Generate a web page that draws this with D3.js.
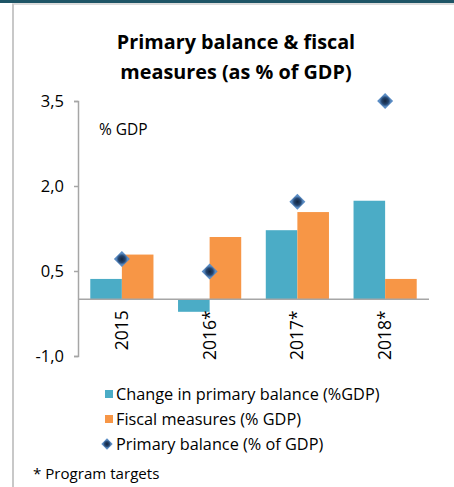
<!DOCTYPE html>
<html>
<head>
<meta charset="utf-8">
<script src="https://cdn.jsdelivr.net/npm/d3@7"></script>
<style>
  body { margin: 0; background: #fff; }
  svg { display: block; font-family: "Open Sans", sans-serif; }
</style>
</head>
<body>
<div id="chart"></div>
<script>
// primary balance & fiscal measures, bars + diamond markers

const years = ['2015', '2016*', '2017*', '2018*'];
const changeInBalance = [0.36, -0.22, 1.22, 1.74];
const fiscalMeasures = [0.79, 1.10, 1.54, 0.36];
const primaryBalance = [0.71, 0.49, 1.72, 3.5];
const yTicks = [-1.0, 0.5, 2.0, 3.5];
const legendLabels = ['Change in primary balance (%GDP)', 'Fiscal measures (% GDP)', 'Primary balance (% of GDP)'];

const width = 454, height = 487;
const teal = '#4bacc6', orange = '#f79646';

const svg = d3.select('#chart').append('svg')
    .attr('width', width)
    .attr('height', height);

// gradient for the diamonds
const defs = svg.append('defs');
const grad = defs.append('radialGradient').attr('id', 'dia');
grad.append('stop').attr('offset', '0%').attr('stop-color', '#13243d');
grad.append('stop').attr('offset', '60%').attr('stop-color', '#23446e');
grad.append('stop').attr('offset', '100%').attr('stop-color', '#5a8cc4');

// frame
svg.append('rect').attr('x', 0).attr('y', 0).attr('width', width).attr('height', 3).attr('fill', '#1e5566');
svg.append('line').attr('x1', 12).attr('x2', width).attr('y1', 4).attr('y2', 4)
    .attr('stroke', '#d0d0d0').attr('stroke-width', 1.5);
svg.append('line').attr('x1', 13).attr('x2', 13).attr('y1', 4).attr('y2', height)
    .attr('stroke', '#c8c8c8').attr('stroke-width', 2);

// title
svg.append('text').attr('x', 236).attr('y', 49).attr('text-anchor', 'middle')
    .attr('font-size', 19.8).attr('font-weight', 'bold').text('Primary balance & fiscal');
svg.append('text').attr('x', 236).attr('y', 79).attr('text-anchor', 'middle')
    .attr('font-size', 19.8).attr('font-weight', 'bold').text('measures (as % of GDP)');

const margin = { left: 78, right: 25 };
const x = d3.scaleBand().domain(years).range([78, 429]).paddingInner(0.28).paddingOuter(0.14);
const y = d3.scaleLinear().domain([-1, 3.5]).range([356, 101]);

// y axis
const yAxis = svg.append('g').attr('transform', `translate(${margin.left},0)`)
    .call(d3.axisLeft(y).tickValues(yTicks).tickSize(4).tickPadding(10)
        .tickFormat(d => d.toFixed(1).replace('.', ',')));
yAxis.select('.domain').attr('stroke', '#a6a6a6').attr('stroke-width', 1.5);
yAxis.selectAll('.tick line').attr('stroke', '#a6a6a6').attr('stroke-width', 1.5);
yAxis.selectAll('.tick text').attr('font-size', 16.5).attr('fill', '#000')
    .style('font-family', '"Open Sans", sans-serif');

svg.append('text').attr('x', 99).attr('y', 135).attr('font-size', 15.5).text('% GDP');

// bars
const bw = x.bandwidth() / 2;
svg.append('g').selectAll('rect').data(changeInBalance).join('rect')
    .attr('x', (d, i) => x(years[i]))
    .attr('y', d => y(Math.max(0, d)))
    .attr('width', bw)
    .attr('height', d => Math.abs(y(d) - y(0)))
    .attr('fill', teal);
svg.append('g').selectAll('rect').data(fiscalMeasures).join('rect')
    .attr('x', (d, i) => x(years[i]) + bw)
    .attr('y', d => y(Math.max(0, d)))
    .attr('width', bw)
    .attr('height', d => Math.abs(y(d) - y(0)))
    .attr('fill', orange);

// x axis at zero
svg.append('line').attr('x1', 78).attr('x2', 429).attr('y1', y(0)).attr('y2', y(0))
    .attr('stroke', '#a6a6a6').attr('stroke-width', 1.5);

svg.append('g').selectAll('text').data(years).join('text')
    .attr('transform', d => `translate(${x(d) + x.bandwidth() / 2 + 6},${y(0) + 11}) rotate(-90)`)
    .attr('text-anchor', 'end')
    .attr('font-size', 17.5)
    .text(d => d);

// diamonds
const diamond = d3.symbol().type(d3.symbolSquare).size(128);
svg.append('g').selectAll('path').data(primaryBalance).join('path')
    .attr('d', diamond)
    .attr('transform', (d, i) => `translate(${x(years[i]) + x.bandwidth() / 2},${y(d)}) rotate(45)`)
    .attr('fill', 'url(#dia)');

// legend
const lg = svg.append('g');
const rowY = [394, 419, 444];
lg.append('rect').attr('x', 105).attr('y', rowY[0] - 4).attr('width', 8).attr('height', 8).attr('fill', teal);
lg.append('rect').attr('x', 105).attr('y', rowY[1] - 4).attr('width', 8).attr('height', 8).attr('fill', orange);
lg.append('path').attr('d', d3.symbol().type(d3.symbolSquare).size(64))
    .attr('transform', `translate(107,${rowY[2]}) rotate(45)`).attr('fill', 'url(#dia)');
lg.selectAll('text').data(legendLabels).join('text')
    .attr('x', 116).attr('y', (d, i) => rowY[i] + 6)
    .attr('font-size', 16.3)
    .text(d => d);

svg.append('text').attr('x', 33).attr('y', 479).attr('font-size', 15.1).text('* Program targets');
</script>
</body>
</html>
